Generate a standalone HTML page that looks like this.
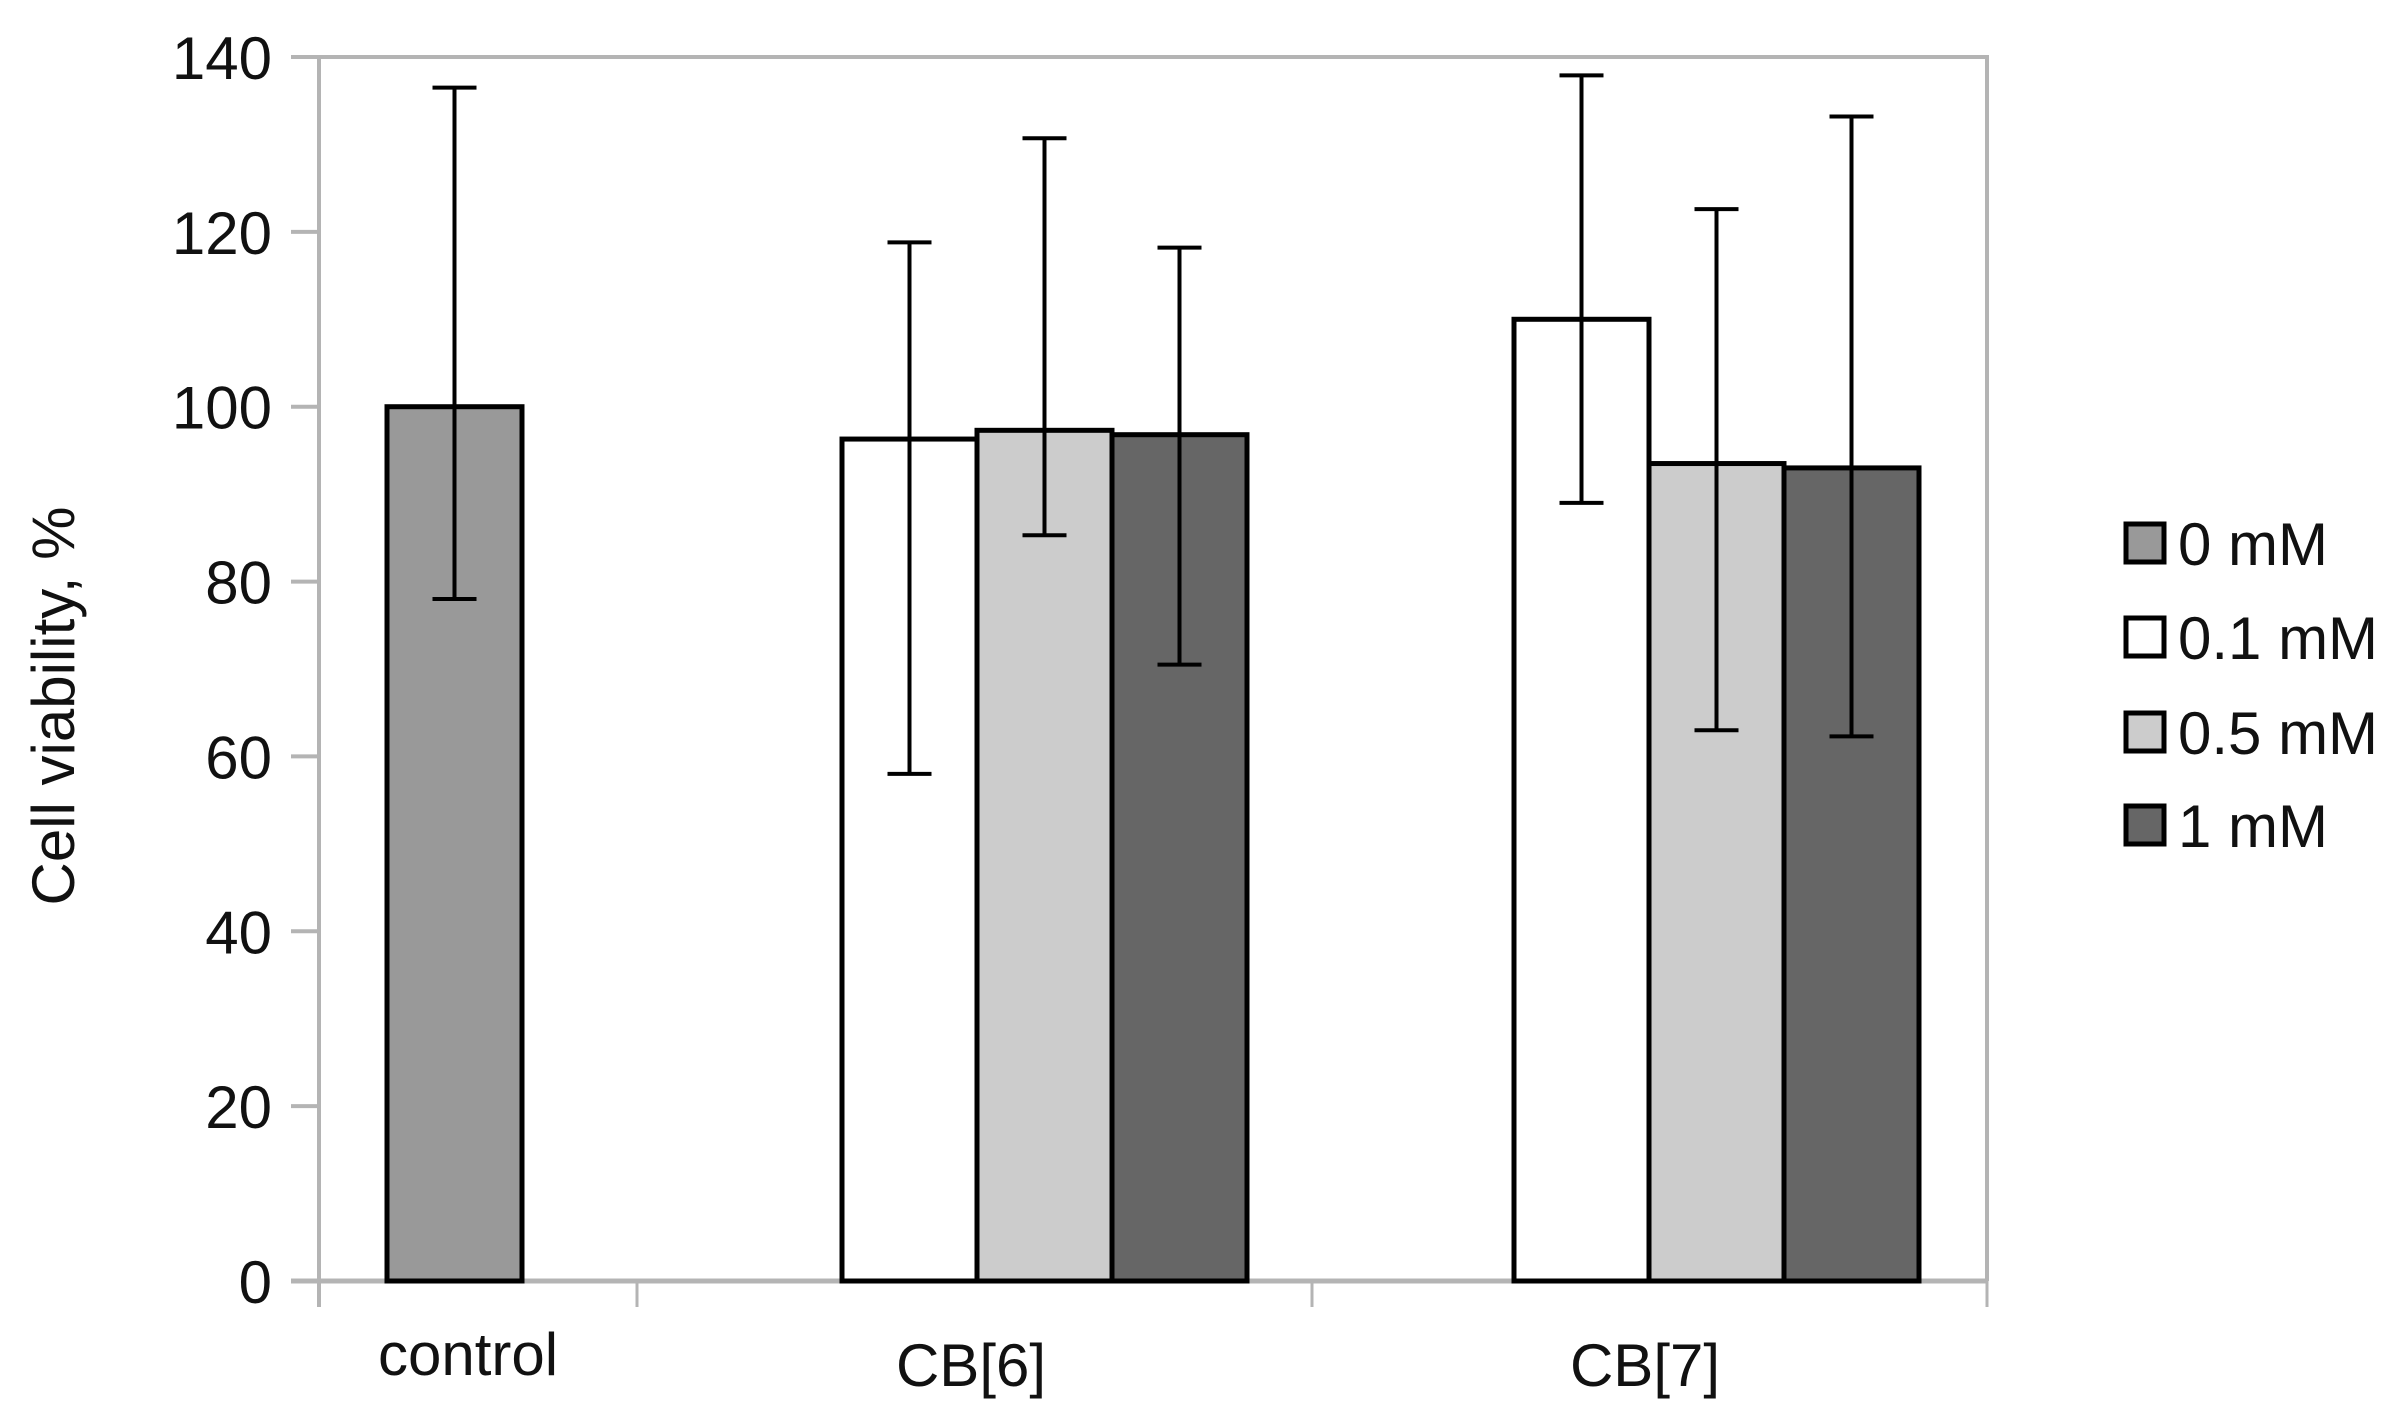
<!DOCTYPE html>
<html><head><meta charset="utf-8"><style>
html,body{margin:0;padding:0;background:#fff;}
svg{display:block;}
text{font-family:"Liberation Sans",Arial,sans-serif;fill:#111;}
</style></head><body>
<svg id="chart" width="2405" height="1423" viewBox="0 0 2405 1423" xmlns="http://www.w3.org/2000/svg"></svg>
<script>
const categories = ["control", "CB[6]", "CB[7]"];
const seriesNames = ["0 mM", "0.1 mM", "0.5 mM", "1 mM"];
const seriesColors = ["#999999", "#ffffff", "#cccccc", "#666666"];
const controlSeries = [0];
const controlValues = [100];
const controlErrLow = [78];
const controlErrHigh = [136.5];
const cb6Series = [1, 2, 3];
const cb6Values = [96.3, 97.3, 96.8];
const cb6ErrLow = [58, 85.3, 70.5];
const cb6ErrHigh = [118.8, 130.7, 118.2];
const cb7Series = [1, 2, 3];
const cb7Values = [110, 93.5, 93];
const cb7ErrLow = [89, 63, 62.3];
const cb7ErrHigh = [137.9, 122.6, 133.2];
const yTicks = [0, 20, 40, 60, 80, 100, 120, 140];

const svg = document.getElementById('chart');
const NS = "http://www.w3.org/2000/svg";
const X0 = 319, X1 = 1987, Y0 = 1281, YTOP = 57, YMAX = 140;
const y = v => Y0 - (v / YMAX) * (Y0 - YTOP);
const catBounds = [319, 637, 1312, 1987];
const barW = 135;
const groupStart = [387, 842, 1514];

function mk(tag, attrs, parent) {
  const e = document.createElementNS(NS, tag);
  for (const k in attrs) e.setAttribute(k, attrs[k]);
  (parent || svg).appendChild(e);
  return e;
}

const frame = mk('path', {d:`M${X0},${YTOP} H${X1} V${Y0}`, fill:'none', stroke:'#b4b4b4', 'stroke-width':4});


const yAxis = mk('line', {x1:X0, y1:YTOP, x2:X0, y2:Y0+26, stroke:'#b4b4b4', 'stroke-width':4});


const xAxis = mk('line', {x1:X0-28, y1:Y0, x2:X1, y2:Y0, stroke:'#b4b4b4', 'stroke-width':5});



yTicks.forEach(t => {
  const tk = mk('line', {x1:X0-28, y1:y(t), x2:X0, y2:y(t), stroke:'#b4b4b4', 'stroke-width':4});
  
  
  const lb = mk('text', {x:272, y:y(t)+22, 'text-anchor':'end', 'font-size':60});
  lb.textContent = t;
  
  
});
catBounds.forEach(cx => {
  const tk = mk('line', {x1:cx, y1:Y0, x2:cx, y2:Y0+26, stroke:'#b4b4b4', 'stroke-width':3});
  
  
});
const catLabelX = [468, 971, 1645];
const catLabelY = [1375, 1386, 1386];
categories.forEach((c, i) => {
  const lb = mk('text', {x:catLabelX[i], y:catLabelY[i], 'text-anchor':'middle', 'font-size':60});
  lb.textContent = c;
  
  
});

const title = mk('text', {x:0, y:0, 'text-anchor':'middle', 'font-size':60, transform:'translate(74,706) rotate(-90)'});
title.textContent = 'Cell viability, %';



function drawGroup(gi, sers, vals, lo, hi) {
  sers.forEach((s, j) => {
    const bx = groupStart[gi] + j * barW;
    const r = mk('rect', {x:bx, y:y(vals[j]), width:barW, height:Y0 - y(vals[j]), fill:seriesColors[s], stroke:'#000', 'stroke-width':5});
    
    
  });
  sers.forEach((s, j) => {
    const cx = groupStart[gi] + j * barW + barW / 2;
    const e = mk('path', {d:`M${cx},${y(lo[j])} V${y(hi[j])} M${cx-22},${y(hi[j])} H${cx+22} M${cx-22},${y(lo[j])} H${cx+22}`, fill:'none', stroke:'#000', 'stroke-width':4});
    
    
  });
}
drawGroup(0, controlSeries, controlValues, controlErrLow, controlErrHigh);
drawGroup(1, cb6Series, cb6Values, cb6ErrLow, cb6ErrHigh);
drawGroup(2, cb7Series, cb7Values, cb7ErrLow, cb7ErrHigh);

const legendY = [543, 637, 732, 825];
seriesNames.forEach((n, i) => {
  const g = mk('g', {});
  
  
  const sq = mk('rect', {x:2126, y:legendY[i]-19, width:38, height:38, fill:seriesColors[i], stroke:'#000', 'stroke-width':5}, g);
  
  
  const t = mk('text', {x:2178, y:legendY[i]+22, 'font-size':60}, g);
  t.textContent = n;
  
  
});
</script>
</body></html>
